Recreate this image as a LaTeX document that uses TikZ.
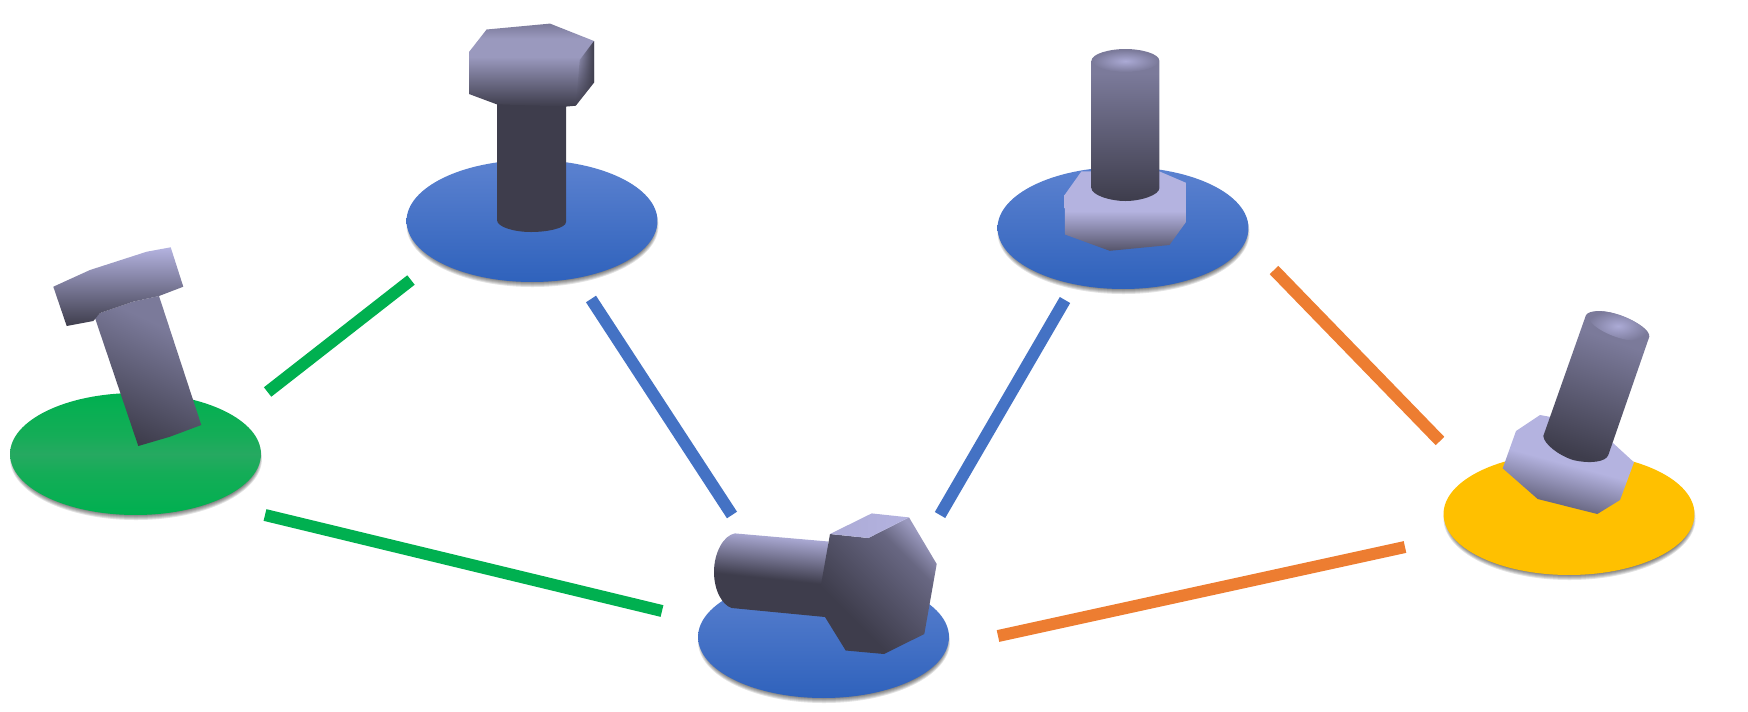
\documentclass[tikz,border=0pt]{standalone}
\usepackage{tikz}
\usetikzlibrary{shapes.geometric}
\usetikzlibrary{fadings}
\definecolor{boltdark}{HTML}{3E3D4C}
\definecolor{boltgrey}{HTML}{55546A}
\definecolor{boltmid}{HTML}{7B7A9A}
\definecolor{boltpale}{HTML}{9A99BE}
\definecolor{boltlight}{HTML}{B4B3E0}
\definecolor{linegreen}{HTML}{00B050}
\definecolor{greensoft}{HTML}{14AD57}
\definecolor{greenband}{HTML}{26A961}
\definecolor{lineblue}{HTML}{4472C4}
\definecolor{bluetop}{HTML}{5C82D0}
\definecolor{bluelow}{HTML}{2F62BC}
\definecolor{lineorange}{HTML}{ED7D31}
\definecolor{diskyellow}{HTML}{FFC000}
\pgfdeclareverticalshading{headshade}{100bp}{color(0bp)=(boltdark); color(25bp)=(boltdark);
    color(55bp)=(boltpale); color(66bp)=(boltpale); color(75bp)=(boltmid); color(100bp)=(boltmid)}
\pgfdeclareverticalshading{nutshade}{100bp}{color(0bp)=(boltdark); color(25bp)=(boltgrey);
    color(50bp)=(boltlight); color(100bp)=(boltlight)}
\pgfdeclareverticalshading{shankshade}{100bp}{color(0bp)=(boltdark); color(48bp)=(boltdark);
    color(75bp)=(boltlight); color(100bp)=(boltlight)}
\pgfdeclareverticalshading{rodshade}{100bp}{color(0bp)=(boltdark); color(25bp)=(boltdark);
    color(67bp)=(boltmid); color(100bp)=(boltmid)}
\pgfdeclareverticalshading{faceshade}{100bp}{color(0bp)=(boltdark); color(34bp)=(boltdark);
    color(52bp)=(boltgrey); color(66bp)=(boltgrey!50!boltmid); color(76bp)=(boltpale); color(100bp)=(boltpale)}
\pgfdeclareverticalshading{greenshade}{100bp}{color(0bp)=(linegreen); color(25bp)=(linegreen);
    color(42bp)=(greensoft); color(50bp)=(greenband); color(58bp)=(greensoft); color(75bp)=(linegreen); color(100bp)=(linegreen)}
\tikzset{disk/.style = {ellipse, inner sep = 0, minimum width = 5.02cm, minimum height = 2.44cm}}
\tikzset{link/.style = {line width = 0.24cm}}
\tikzset{bluefill/.style = {top color = bluetop, bottom color = bluelow}}
\tikzset{capglow/.style = {inner color = boltlight!85!boltmid, outer color = boltmid}}
\def\drawdisk(#1,#2)#3#4{%
    \foreach \k in {0,...,6} {%
        \fill [black, opacity = 0.11] (#1 + 0.5, #2 + 4.5) ellipse [x radius = {126 - 0.8*\k}, y radius = {61.5 - \k}];%
    }%
    \node [disk, #4] (#3) at (#1, #2) {};%
}

\begin{document}
\begin{tikzpicture}[x = 0.02cm, y = -0.02cm]
    \useasboundingbox (0, 0) rectangle (1748, 711);

    \drawdisk(135.5,454){greendisk}{shading = greenshade}
    \drawdisk(532,221){bluedisktop}{bluefill}
    \drawdisk(1123,228){blueright}{bluefill}
    \drawdisk(823.5,637){bluebottom}{bluefill}
    \drawdisk(1569,514){yellowdisk}{fill = diskyellow}

    % links
    \coordinate (ga) at (267.6, 392);
    \coordinate (gb) at (411, 280);
    \coordinate (gc) at (265, 515);
    \coordinate (gd) at (662, 611);
    \coordinate (ba) at (591, 299);
    \coordinate (bb) at (732, 515);
    \coordinate (bc) at (1065, 300);
    \coordinate (bd) at (940, 515);
    \coordinate (oa) at (1274, 270);
    \coordinate (ob) at (1440, 441);
    \coordinate (oc) at (998, 636);
    \coordinate (od) at (1405, 547);
    \draw [link, linegreen] (ga) -- (gb);
    \draw [link, linegreen] (gc) -- (gd);
    \draw [link, lineblue] (ba) -- (bb);
    \draw [link, lineblue] (bc) -- (bd);
    \draw [link, lineorange] (oa) -- (ob);
    \draw [link, lineorange] (oc) -- (od);

    % tilted bolt on the green disk
    \shade [shading = rodshade, shading angle = -25] (95, 318) -- (100, 313) -- (133, 301.7) -- (159, 296) -- (201.3, 425)
        -- (170, 436.7) -- (138.3, 446) -- cycle;
    \shade [top color = boltlight, bottom color = boltdark] (53.3, 286.7) -- (90, 270) -- (146.7, 251.7)
        -- (170.7, 247.3) -- (183.3, 286.7) -- (159, 296) -- (133, 301.7) -- (100, 313) -- (93.3, 321) -- (66.7, 326) -- cycle;

    % bolt on the top blue disk
    \fill [boltdark] (497, 100) -- (566, 100) -- (566, 222) .. controls (566, 228) and (548, 232) .. (531, 232)
        .. controls (514, 232) and (497, 227) .. (497, 220) -- cycle;
    \shade [shading = headshade] (486.6, 29.5) -- (550, 23.6) -- (594, 41) -- (594, 82.5) -- (575.8, 105.7) -- (566, 106.6)
        -- (496.7, 104.3) -- (469, 94) -- (469, 52) -- cycle;
    \fill [boltdark, path fading = west] (594, 41) -- (594, 82.5) -- (575.8, 105.7) -- (579.7, 60) -- cycle;

    % nut and rod on the right blue disk
    \shade [shading = nutshade] (1081.4, 171.4) -- (1159.4, 171.4) -- (1186, 182.8) -- (1186, 222) -- (1169.4, 245)
        -- (1109.8, 250.8) -- (1065, 234.5) -- (1064.6, 195) -- cycle;
    \shade [shading = rodshade] (1091.4, 61) .. controls (1091.4, 53.5) and (1110, 49) .. (1125.4, 49)
        .. controls (1141, 49) and (1159.4, 53.5) .. (1159.4, 61) -- (1159.4, 188)
        .. controls (1159.4, 195) and (1141, 201) .. (1125.4, 201)
        .. controls (1110, 201) and (1091.4, 195) .. (1091.4, 188) -- cycle;
    \shade [capglow] (1125.4, 61) ellipse [x radius = 33, y radius = 11];

    % nut and rod on the yellow disk
    \shade [shading = nutshade, shading angle = -15] (1540, 415) -- (1516, 431) -- (1502.7, 468.3) -- (1537.7, 499)
        -- (1597.3, 514) -- (1620, 500) -- (1634, 462.3) -- (1613.3, 443.3) -- (1549.3, 416.7) -- cycle;
    \shade [shading = rodshade, shading angle = -19] (1586, 315) .. controls (1589, 310) and (1605, 309) .. (1623, 316.7)
        .. controls (1640, 323) and (1650, 331) .. (1649.3, 336.7) -- (1608.3, 455)
        .. controls (1606, 462) and (1590, 464) .. (1573, 460) .. controls (1558, 455) and (1544, 444) .. (1543.3, 436) -- cycle;
    \shade [capglow, rotate around = {-20:(1618, 326)}] (1618, 326) ellipse [x radius = 31, y radius = 11];

    % lying bolt on the bottom blue disk
    \shade [shading = shankshade, shading angle = -6] (735, 533.4) -- (828.3, 541.5) -- (825, 617) -- (731.7, 608)
        .. controls (722, 605) and (714, 590) .. (714, 572) .. controls (714, 552) and (724, 535) .. (735, 533.4) -- cycle;
    \shade [shading = faceshade, shading angle = -45] (830, 534) -- (868.3, 538) -- (909, 517.4)
        -- (936.7, 564) -- (924.3, 634) -- (884, 654) -- (845.7, 650.5) -- (825, 617) -- (818.3, 600) -- cycle;
    \shade [left color = boltlight!85!boltmid, right color = boltlight] (830, 534) -- (871.7, 513.4) -- (909, 517.4) -- (868.3, 538) -- cycle;
\end{tikzpicture}
\end{document}
